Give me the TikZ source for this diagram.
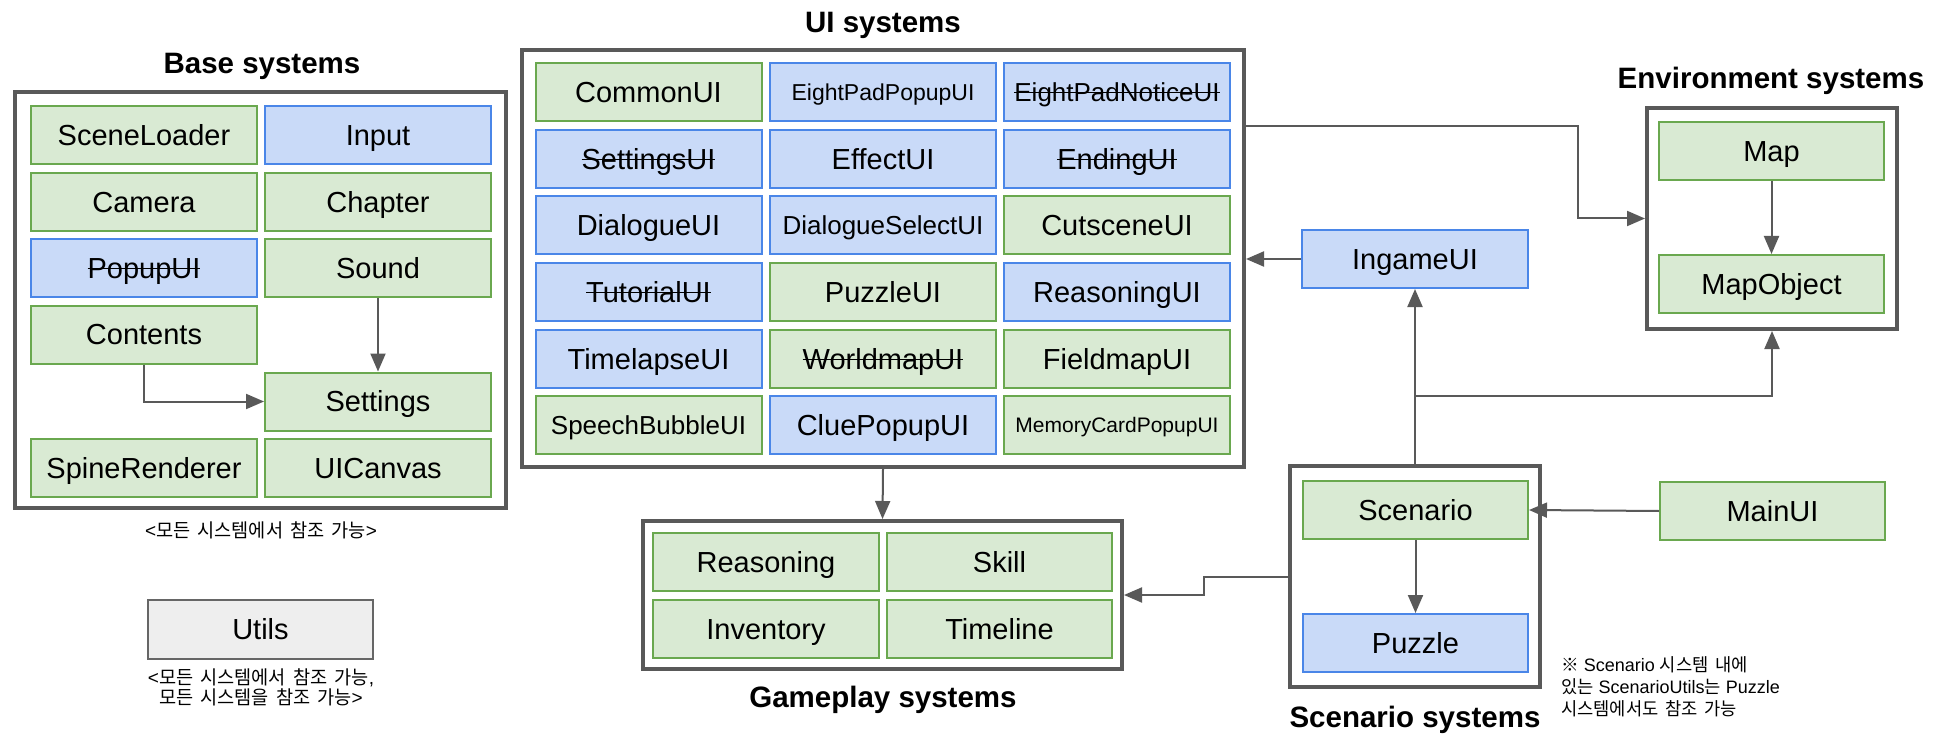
\documentclass[tikz,border=0pt]{standalone}
\usepackage{fontspec}
\setmainfont{Liberation Sans}
\newfontfamily\krfont[FakeStretch=0.98,WordSpace=1.7]{Noto Sans CJK KR}
\newcommand{\mystrk}[1]{\leavevmode\setbox0=\hbox{#1}\rlap{\rule[0.31em]{\wd0}{1.6pt}}\box0}
\usetikzlibrary{arrows.meta}
\definecolor{gfill}{HTML}{D9EAD3}
\definecolor{gline}{HTML}{6AA84F}
\definecolor{bfill}{HTML}{C9DAF8}
\definecolor{bline}{HTML}{4A86E8}
\definecolor{outc}{HTML}{595959}
\definecolor{arrc}{HTML}{595959}
\definecolor{ufill}{HTML}{EEEEEE}
\definecolor{uline}{HTML}{666666}
\tikzset{
  box/.style={draw, line width=2pt, minimum width=226, minimum height=58, inner sep=0pt,
    font=\fontsize{29}{33}\selectfont, text height=20.8pt, text depth=0pt},
  fs23/.style={font=\fontsize{23}{27}\selectfont, text height=16.5pt},
  fs26/.style={font=\fontsize{26}{30}\selectfont, text height=18.6pt},
  fs21/.style={font=\fontsize{21}{25}\selectfont, text height=15pt},
  gbox/.style={box, fill=gfill, draw=gline},
  bbox/.style={box, fill=bfill, draw=bline},
  outerbox/.style={draw=outc, line width=4pt, fill=white, inner sep=0pt},
  ttl/.style={font=\bfseries\fontsize{29.5}{34}\selectfont, inner sep=0pt, text height=21.1pt, text depth=0pt},
  arr/.style={draw=arrc, line width=2pt, -{Triangle[length=18pt,width=15pt]}},
  krnote/.style={font=\fontsize{19}{20}\selectfont, align=center, inner sep=0pt}
}
\begin{document}
\begin{tikzpicture}[x=1pt,y=-1pt]
\fill[white] (0,0) rectangle (1936,746);
\useasboundingbox (0,0) rectangle (1936,746);

% ---------------- Base systems
\node[ttl] (basettl) at (262,63) {Base systems};
\node[outerbox, minimum width=491, minimum height=416] (basebox) at (260.5,300) {};
\node[gbox] (sceneloader) at (144,135.5) {SceneLoader};
\node[bbox] (input) at (378,135.5) {Input};
\node[gbox] (camera) at (144,202) {Camera};
\node[gbox] (chapter) at (378,202) {Chapter};
\node[bbox] (popupui) at (144,268) {\mystrk{PopupUI}};
\node[gbox] (sound) at (378,268) {Sound};
\node[gbox] (contents) at (144,334.5) {Contents};
\node[gbox] (settings) at (378,401.5) {Settings};
\node[gbox] (spine) at (144,468) {SpineRenderer};
\node[gbox] (uicanvas) at (378,468) {UICanvas};
\draw[arr] (sound) -- (settings);
\draw[arr] (contents.south) |- (settings.west);
\node[krnote] (basenote) at (261,530) {<{\krfont 모든 시스템에서 참조 가능}>};

% ---------------- Utils
\node[draw=uline, fill=ufill, line width=2pt, minimum width=225, minimum height=59, inner sep=0pt, font=\fontsize{29}{33}\selectfont, text height=20.8pt, text depth=0pt] (utils) at (260.5,629.5) {Utils};
\node[krnote] (utilsnote) at (261,687.5) {<{\krfont 모든 시스템에서 참조 가능},\\{\krfont 모든 시스템을 참조 가능}>};

% ---------------- UI systems
\node[ttl] (uittl) at (883,22) {UI systems};
\node[outerbox, minimum width=722, minimum height=417] (uibox) at (883,258.5) {};
\node[gbox] (commonui) at (648.5,92) {CommonUI};
\node[bbox, fs23] (eightpopup) at (883,92) {EightPadPopupUI};
\node[bbox, fs26] (eightnotice) at (1117,92) {\mystrk{EightPadNoticeUI}};
\node[bbox] (settingsui) at (648.5,159) {\mystrk{SettingsUI}};
\node[bbox] (effectui) at (883,159) {EffectUI};
\node[bbox] (endingui) at (1117,159) {\mystrk{EndingUI}};
\node[bbox] (dialogueui) at (648.5,225.5) {DialogueUI};
\node[bbox, fs26] (dialselect) at (883,225.5) {DialogueSelectUI};
\node[gbox] (cutscene) at (1117,225.5) {CutsceneUI};
\node[bbox] (tutorial) at (648.5,292) {\mystrk{TutorialUI}};
\node[gbox] (puzzleui) at (883,292) {PuzzleUI};
\node[bbox] (reasoningui) at (1117,292) {ReasoningUI};
\node[bbox] (timelapse) at (648.5,359) {TimelapseUI};
\node[gbox] (worldmap) at (883,359) {\mystrk{WorldmapUI}};
\node[gbox] (fieldmap) at (1117,359) {FieldmapUI};
\node[gbox, fs26] (speech) at (648.5,425) {SpeechBubbleUI};
\node[bbox] (cluepopup) at (883,425) {CluePopupUI};
\node[gbox, fs21] (memory) at (1117,425) {MemoryCardPopupUI};

% ---------------- Environment systems
\node[ttl] (envttl) at (1771,78) {Environment systems};
\node[outerbox, minimum width=250, minimum height=221] (envbox) at (1772,218.5) {};
\node[gbox, minimum width=225] (map) at (1771.5,151) {Map};
\node[gbox, minimum width=225] (mapobject) at (1771.5,284) {MapObject};
\draw[arr] (map) -- (mapobject);

% ---------------- IngameUI
\node[bbox] (ingame) at (1415,259) {IngameUI};

% ---------------- Gameplay systems
\node[outerbox, minimum width=479, minimum height=148] (gamebox) at (882.5,595) {};
\node[gbox] (reasoning) at (766,562) {Reasoning};
\node[gbox, minimum width=225] (skill) at (999.5,562) {Skill};
\node[gbox] (inventory) at (766,629) {Inventory};
\node[gbox, minimum width=225] (timeline) at (999.5,629) {Timeline};
\node[ttl] (gamettl) at (883,697) {Gameplay systems};

% ---------------- Scenario systems
\node[outerbox, minimum width=250, minimum height=221] (scenbox) at (1415,576.5) {};
\node[gbox, minimum width=225] (scenario) at (1415.5,510) {Scenario};
\node[bbox, minimum width=225] (puzzle) at (1415.5,643) {Puzzle};
\node[gbox, minimum width=225] (mainui) at (1772.5,511) {MainUI};
\node[ttl] (scenttl) at (1415,716.5) {Scenario systems};
\node[krnote, anchor=west, align=left, font=\fontsize{18}{22}\selectfont] (scennote) at (1561,687) {{\krfont ※} Scenario {\krfont 시스템 내에}\\{\krfont 있는} ScenarioUtils{\krfont 는} Puzzle\\{\krfont 시스템에서도 참조 가능}};
\draw[arr] (scenario) -- (puzzle);
\draw[arr] (mainui.west) -- (scenario.east);

% ---------------- connectors between systems
\draw[arr] ([yshift=132.5pt]uibox.east) -- ++(332,0) |- (envbox.west);
\draw[arr] (ingame.west) -- (ingame.west -| uibox.east);
\draw[arr] (uibox.south) -- (gamebox.north);
\draw[arr] (scenbox.north) -- (ingame.south);
\coordinate (junc) at (1415,396);
\draw[arr] (junc) -| (envbox.south);
\draw[arr] (scenbox.west) -- ++(-84,0) |- (gamebox.east);
\end{tikzpicture}
\end{document}
